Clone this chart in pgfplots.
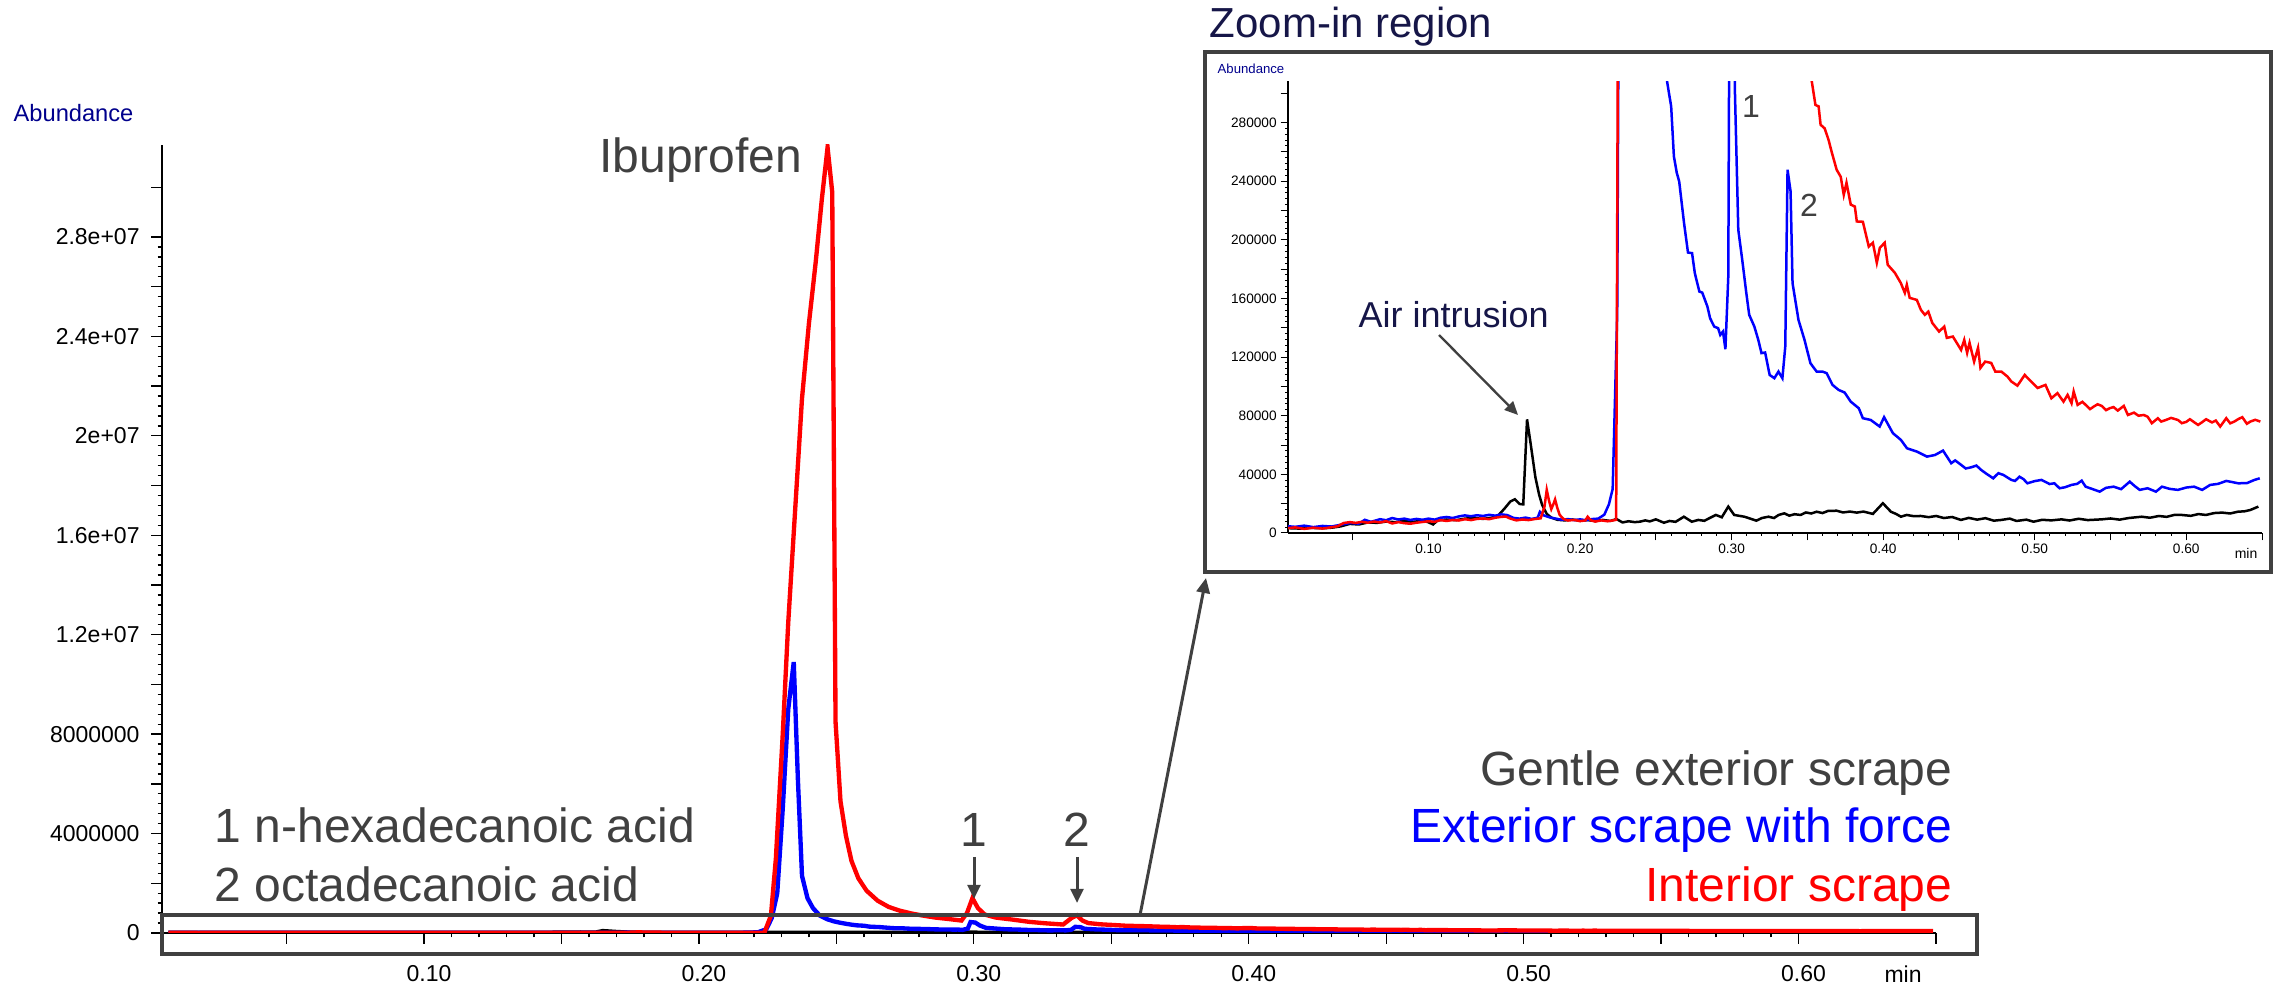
\documentclass[border=0pt]{standalone}
\usepackage{fontspec}
\setmainfont{Liberation Sans}
\usepackage{pgfplots}
\pgfplotsset{compat=1.18}
\usepackage{pgfplotstable}
\usetikzlibrary{arrows.meta}
\definecolor{dgrey}{RGB}{64,64,64}
\definecolor{navyA}{RGB}{0,0,140}
\definecolor{navyB}{RGB}{22,22,72}
\definecolor{pblue}{RGB}{0,0,255}
\definecolor{pred}{RGB}{255,0,0}

\pgfplotstableread{
x v
0.007 3300
0.015 3000
0.022 3500
0.030 3200
0.036 3600
0.042 4500
0.048 6200
0.054 5800
0.060 7200
0.066 6900
0.072 7800
0.078 7400
0.084 8200
0.090 7600
0.096 8400
0.100 7300
0.103 5800
0.106 8600
0.112 9200
0.118 8700
0.124 9800
0.130 10200
0.136 9600
0.142 10500
0.146 12000
0.150 16500
0.154 21500
0.157 23000
0.160 19800
0.1625 19500
0.165 77500
0.1675 60000
0.1705 38000
0.173 26000
0.175 19000
0.178 13000
0.181 10500
0.185 9000
0.190 8600
0.195 9200
0.200 8300
0.205 8800
0.210 8100
0.215 8900
0.220 8200
0.224 9500
0.228 7200
0.232 8000
0.236 7400
0.2394 7700
0.243 8600
0.246 7900
0.250 9300
0.2553 7000
0.259 8200
0.263 7600
0.2685 11100
0.2737 7700
0.278 8900
0.282 8300
0.2855 10200
0.2896 12300
0.2935 10700
0.2978 18000
0.3017 12300
0.3084 11100
0.312 9900
0.3163 8400
0.320 10200
0.3243 11100
0.328 10200
0.331 12300
0.3348 13400
0.338 11800
0.3415 12800
0.3455 12300
0.349 14000
0.3525 13300
0.3561 14500
0.360 13600
0.3635 15000
0.3693 15200
0.3735 14000
0.378 14600
0.3826 13900
0.387 14600
0.3932 13000
0.3998 20300
0.4051 14500
0.4085 13000
0.4117 11100
0.4155 12300
0.420 11500
0.4248 11600
0.430 10800
0.435 11600
0.440 10200
0.4455 10900
0.4513 8900
0.4565 10300
0.462 9100
0.4675 10100
0.473 8400
0.478 8900
0.4835 9800
0.488 8200
0.4945 9100
0.4992 7700
0.505 9000
0.511 8600
0.5177 9300
0.523 8500
0.529 9700
0.535 8800
0.5442 9300
0.550 9900
0.556 9100
0.562 10200
0.5706 11100
0.576 10400
0.582 11600
0.587 11000
0.592 12300
0.597 12300
0.603 11700
0.608 12900
0.613 12300
0.6185 13600
0.6237 13900
0.629 13300
0.634 14500
0.6385 14800
0.6423 15700
0.6476 18000
}\blackdata

\pgfplotstableread{
x v
0.007 4600
0.012 4200
0.018 5000
0.024 4000
0.030 4800
0.036 4400
0.042 5600
0.048 6800
0.054 6400
0.058 9000
0.062 7600
0.068 9400
0.072 8700
0.076 10200
0.080 9200
0.084 9800
0.088 8900
0.092 9600
0.096 9000
0.100 9800
0.104 9100
0.108 10400
0.112 10900
0.116 10200
0.120 11300
0.124 12000
0.128 11400
0.132 12100
0.136 11600
0.140 12400
0.144 11800
0.148 12700
0.152 12200
0.156 10300
0.160 9800
0.164 10500
0.168 9600
0.172 10400
0.1735 14500
0.176 12000
0.180 10600
0.184 9800
0.188 9000
0.192 9500
0.196 8800
0.200 9300
0.204 8700
0.208 9500
0.212 9800
0.216 12500
0.219 19500
0.2215 30000
0.2245 150000
0.2265 600000
0.2285 1600000
0.2305 5000000
0.2325 9000000
0.2345 10900000
0.236 6200000
0.2375 2300000
0.2395 1400000
0.2415 1000000
0.244 700000
0.2465 560000
0.249 470000
0.2515 410000
0.2535 370000
0.2555 335000
0.2574 308000
0.2601 291000
0.2619 256900
0.2638 245700
0.2654 239800
0.2686 211400
0.2712 191300
0.2739 190900
0.2757 177300
0.2787 164700
0.2806 164000
0.2840 154500
0.2858 146500
0.2885 140800
0.2911 139700
0.2925 135100
0.2943 137400
0.2959 125400
0.2978 175000
0.2988 440000
0.3005 420000
0.3022 300000
0.3044 206800
0.3070 186300
0.3097 163600
0.3116 148800
0.3150 140800
0.3176 131700
0.3197 122700
0.3221 123100
0.3251 107800
0.3282 105600
0.3309 110100
0.3335 105600
0.3354 127200
0.3369 247800
0.3389 233000
0.3402 170400
0.3441 145400
0.3481 131700
0.3520 115800
0.3561 110100
0.3600 110100
0.3627 109000
0.3666 101000
0.3706 97600
0.3746 95800
0.3786 89600
0.3839 85100
0.3866 78300
0.3918 77100
0.3977 72600
0.4006 79000
0.4064 68100
0.4117 63500
0.4157 57800
0.4223 55500
0.4289 52100
0.4342 53200
0.4395 56200
0.4449 47600
0.4475 49500
0.4515 46400
0.4545 44000
0.4581 44800
0.4615 46000
0.4647 43000
0.4680 40500
0.4726 37300
0.4760 40800
0.4793 39600
0.4846 36200
0.4870 35500
0.4899 38400
0.4925 36800
0.4952 33900
0.5000 35400
0.5045 36200
0.5098 33400
0.5130 33900
0.5164 30500
0.5200 31200
0.5243 32800
0.5280 33500
0.5310 35700
0.5336 31600
0.5380 30000
0.5429 28200
0.5470 30800
0.5521 31600
0.5570 29900
0.5627 35000
0.5660 32000
0.5693 29400
0.5745 30500
0.5800 28200
0.5840 31600
0.5890 30100
0.5945 29400
0.6000 31000
0.6052 31600
0.6105 29400
0.6158 32800
0.6210 33500
0.6264 35500
0.6300 34800
0.6343 33900
0.6400 34000
0.6450 36200
0.6485 37300
}\bluedata

\pgfplotstableread{
x v
0.007 3300
0.012 3800
0.018 2800
0.024 3600
0.030 3000
0.036 3900
0.040 4600
0.044 6800
0.048 7400
0.052 6900
0.056 7600
0.060 7000
0.064 7800
0.068 7200
0.072 8100
0.076 6500
0.080 7400
0.084 6700
0.088 6300
0.092 7000
0.096 7500
0.100 8000
0.104 7600
0.108 8800
0.112 8200
0.116 8900
0.120 8500
0.124 9400
0.128 8800
0.132 9600
0.136 9900
0.140 9400
0.144 10400
0.148 11000
0.151 11200
0.154 9800
0.158 8600
0.162 9200
0.166 8800
0.170 9500
0.174 10000
0.1765 18000
0.178 29400
0.1795 22000
0.181 16300
0.1825 20000
0.1835 22900
0.185 17000
0.1865 12400
0.189 9600
0.192 8500
0.196 8900
0.200 8100
0.2035 8600
0.205 11100
0.207 8700
0.210 7800
0.214 8600
0.218 8000
0.222 8600
0.2238 9000
0.2248 300000
0.2262 700000
0.228 3000000
0.2305 8000000
0.2325 12500000
0.235 17000000
0.2375 21500000
0.240 24500000
0.2425 27000000
0.2447 29500000
0.2468 31600000
0.2485 29800000
0.2497 8500000
0.2515 5300000
0.2535 3900000
0.2555 2900000
0.258 2200000
0.261 1700000
0.265 1300000
0.269 1050000
0.273 900000
0.2775 780000
0.2815 700000
0.286 620000
0.291 560000
0.2955 500000
0.2975 800000
0.2995 1400000
0.3015 1000000
0.304 740000
0.308 620000
0.314 540000
0.320 450000
0.326 390000
0.3325 340000
0.3355 600000
0.3375 710000
0.3395 500000
0.3416 400000
0.346 350000
0.3529 308000
0.3553 292000
0.3574 291000
0.3587 278500
0.3614 276000
0.3640 268000
0.3660 260000
0.3693 247800
0.3720 243000
0.3740 230700
0.3758 238900
0.3786 224000
0.3813 222700
0.3826 212500
0.3866 212300
0.3905 195400
0.3932 198000
0.3958 184300
0.3978 194500
0.4010 198000
0.4030 183000
0.4077 177500
0.4116 170600
0.4143 163800
0.4156 169300
0.4175 160400
0.4222 159000
0.4249 152200
0.4275 148800
0.4298 151000
0.4324 143300
0.4369 137400
0.4403 140800
0.4420 133100
0.4460 134000
0.4514 124900
0.4535 131700
0.4554 122900
0.4570 129700
0.4600 116900
0.4626 126300
0.4642 112600
0.4673 116900
0.4713 116000
0.4740 110100
0.4780 110100
0.4820 106700
0.4846 103300
0.4886 100500
0.4934 107800
0.4965 104500
0.5019 98900
0.5071 101000
0.5110 91900
0.5150 95400
0.5190 89600
0.5217 94200
0.5243 88500
0.5257 96500
0.5283 87400
0.5315 89500
0.5336 87400
0.5365 84500
0.5389 86200
0.5415 87800
0.5442 86700
0.5470 83800
0.5495 85100
0.5520 85900
0.5548 83500
0.5588 86700
0.5615 80500
0.5655 82100
0.5685 80000
0.5720 80500
0.5745 79300
0.5773 74900
0.5813 78300
0.5835 76000
0.5866 77100
0.5900 78500
0.5945 77100
0.5971 74900
0.6000 75800
0.6024 77600
0.6078 73700
0.6105 75600
0.6131 77600
0.6170 75400
0.6195 76700
0.6224 72600
0.6264 78300
0.6290 74800
0.6317 76000
0.6345 77800
0.6370 79000
0.6400 74500
0.6423 76000
0.6455 77200
0.6489 76000
}\reddata

\begin{document}
\begin{tikzpicture}
\useasboundingbox (0,0) rectangle (685.5pt,296.4pt);

% ---------------- main axis ----------------
\begin{axis}[
  at={(48.6pt,16.5pt)}, anchor=south west, scale only axis,
  width=532.2pt, height=236.4pt,
  xmin=0.0047, xmax=0.65, ymin=0, ymax=31700000,
  axis x line*=bottom, axis y line*=left,
  axis line style={black, line width=0.5pt, -},
  tick align=outside,
  xtick={0.1,0.2,0.3,0.4,0.5,0.6},
  xticklabels={0.10,0.20,0.30,0.40,0.50,0.60},
  extra x ticks={0.05,0.15,0.25,0.35,0.45,0.55,0.65},
  extra x tick labels={},
  minor x tick num=9,
  ytick={0,4000000,8000000,12000000,16000000,20000000,24000000,28000000},
  yticklabels={0,4000000,8000000,1.2e+07,1.6e+07,2e+07,2.4e+07,2.8e+07},
  extra y ticks={2000000,6000000,10000000,14000000,18000000,22000000,26000000,30000000},
  extra y tick labels={},
  minor y tick num=9,
  major tick length=3.2pt, minor tick length=1.3pt,
  tick style={black, line width=0.4pt},
  ticklabel style={font=\fontsize{6.9}{8}\selectfont},
  xticklabel style={yshift=-3pt, xshift=1.5pt},
  scaled ticks=false,
]
\addplot[black, line width=1.3pt] table {\blackdata};
\addplot[pblue, line width=1.3pt] table {\bluedata};
\addplot[pred, line width=1.3pt] table {\reddata};
\end{axis}

% ---------------- inset axis ----------------
\begin{axis}[
  at={(386.4pt,136.5pt)}, anchor=south west, scale only axis,
  width=292.2pt, height=135.45pt,
  xmin=0.00726, xmax=0.65, ymin=0, ymax=308000,
  axis x line*=bottom, axis y line*=left,
  axis line style={black, line width=0.4pt, -},
  tick align=outside,
  xtick={0.1,0.2,0.3,0.4,0.5,0.6},
  xticklabels={0.10,0.20,0.30,0.40,0.50,0.60},
  extra x ticks={0.05,0.15,0.25,0.35,0.45,0.55,0.65},
  extra x tick labels={},
  minor x tick num=9,
  ytick={0,40000,80000,120000,160000,200000,240000,280000},
  yticklabels={0,40000,80000,120000,160000,200000,240000,280000},
  extra y ticks={20000,60000,100000,140000,180000,220000,260000,300000},
  extra y tick labels={},
  minor y tick num=9,
  major tick length=2.2pt, minor tick length=0.9pt,
  tick style={black, line width=0.3pt},
  ticklabel style={font=\fontsize{4.1}{5}\selectfont, inner sep=1pt},
  scaled ticks=false,
]
\addplot[black, line width=0.75pt] table {\blackdata};
\addplot[pblue, line width=0.75pt] table {\bluedata};
\addplot[pred, line width=0.75pt] table {\reddata};
\end{axis}

\begin{scope}[x=0.3pt,y=0.3pt]
% ---------------- frames and arrows ----------------
\draw[dgrey, line width=1.1pt] (162,34) rectangle (1977,73);
\draw[dgrey, line width=1.2pt] (1205,416) rectangle (2271,936);
\draw[dgrey, line width=0.9pt, -{Triangle[length=4.5pt,width=4pt]}] (1140,73) -- (1206,410);
\draw[dgrey, line width=0.9pt, -{Triangle[length=4.2pt,width=3.8pt]}] (974,131) -- (974,89);
\draw[dgrey, line width=0.9pt, -{Triangle[length=4.2pt,width=3.8pt]}] (1077,131) -- (1077,85);
\draw[dgrey, line width=0.7pt, -{Triangle[length=4pt,width=3.6pt]}] (1439,653) -- (1518,573);

% ---------------- texts ----------------
\node[anchor=west, inner sep=0, text=navyA, font=\fontsize{7.1}{8}\selectfont] at (13,875) {Abundance};
\node[anchor=west, inner sep=0, text=navyA, font=\fontsize{3.95}{5}\selectfont] at (1217,919) {Abundance};
\node[anchor=base west, inner sep=0, text=navyB, font=\fontsize{12.6}{14}\selectfont] at (1209,950) {Zoom-in region};
\node[anchor=base west, inner sep=0, text=navyB, font=\fontsize{10.8}{12}\selectfont] at (1358,660) {Air intrusion};
\node[anchor=base east, inner sep=0, text=dgrey, font=\fontsize{14.4}{16}\selectfont] at (803,815) {Ibuprofen};
\node[anchor=base east, inner sep=0, text=dgrey, font=\fontsize{14.4}{16}\selectfont] at (1953,202) {Gentle exterior scrape};
\node[anchor=base east, inner sep=0, text=pblue, font=\fontsize{14.4}{16}\selectfont] at (1953,145) {Exterior scrape with force};
\node[anchor=base east, inner sep=0, text=pred, font=\fontsize{14.4}{16}\selectfont] at (1953,86) {Interior scrape};
\node[anchor=base west, inner sep=0, text=dgrey, font=\fontsize{14.4}{16}\selectfont] at (214,145) {1 n-hexadecanoic acid};
\node[anchor=base west, inner sep=0, text=dgrey, font=\fontsize{14.4}{16}\selectfont] at (214,86) {2 octadecanoic acid};
\node[anchor=base, inner sep=0, text=dgrey, font=\fontsize{14.4}{16}\selectfont] at (974,141) {1};
\node[anchor=base, inner sep=0, text=dgrey, font=\fontsize{14.4}{16}\selectfont] at (1077,141) {2};
\node[inner sep=0, text=dgrey, font=\fontsize{9.6}{11}\selectfont] at (1751,881) {1};
\node[inner sep=0, text=dgrey, font=\fontsize{9.6}{11}\selectfont] at (1809,783) {2};
\node[inner sep=0, font=\fontsize{6.9}{8}\selectfont] at (1903,14) {min};
\node[inner sep=0, font=\fontsize{4.2}{5}\selectfont] at (2246,435) {min};
\end{scope}
\end{tikzpicture}
\end{document}
